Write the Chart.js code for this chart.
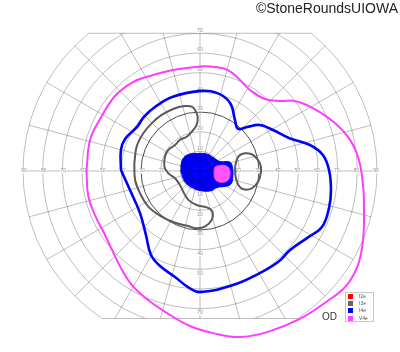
<!DOCTYPE html>
<html>
<head>
<meta charset="utf-8">
<title>Goldmann OD</title>
<script src="https://cdn.jsdelivr.net/npm/chart.js@4.4.1/dist/chart.umd.min.js"></script>
<style>
    body { margin: 0; background: #fff; }
    .wrap { position: relative; width: 400px; height: 352px; overflow: hidden; font-family: 'Liberation Sans', Arial, sans-serif; }
    #field { position: absolute; left: 0; top: 0; }
    .credit { position: absolute; top: 1px; right: 2px; font-size: 14px; line-height: 14px; color: #222; white-space: nowrap; }
    .eye { position: absolute; left: 322px; top: 312px; font-size: 10px; line-height: 10px; color: #333; }
    .legend { position: absolute; left: 345px; top: 292px; width: 27px; height: 28px; border: 1px solid #c8c8c8; background: #fff; }
    .legend div { position: absolute; left: 1.5px; height: 5px; padding-left: 11.5px; font-size: 5px; line-height: 5px; color: #555; }
    .legend span { position: absolute; left: 0; top: 0; width: 5px; height: 5px; }
</style>
</head>
<body>
<div class="wrap">
    <canvas id="field" width="400" height="352"></canvas>
    <div class="credit">©StoneRoundsUIOWA</div>
    <div class="eye">OD</div>
    <div class="legend" id="legend"></div>
</div>
<script>
// Изоптеры в градусах поля: [горизонталь, вертикаль]
const v4eOuter = [
    [-57.7, 0.5], [-55.9, 15.8], [-50.8, 26.4], [-43.2, 38.1], [-34.1, 45.2], [-25.4, 48.3],
    [-13.7, 51.3], [0, 53.1], [7.6, 52.9], [14.2, 51.3], [19.3, 47.3], [25.4, 41.2],
    [33.0, 36.6], [40.7, 35.6], [48.3, 35.6], [57.4, 32.0], [68.6, 24.4], [76.3, 15.8],
    [80.8, 5.6], [82.9, -7.1], [83.4, -19.8], [82.9, -35.1], [80.3, -47.8], [74.2, -58.5],
    [64.1, -66.6], [50.8, -75.2], [34.1, -81.9], [20.3, -84.4], [6.6, -82.4], [-5.1, -78.8],
    [-16.8, -72.2], [-26.4, -65.6], [-34.6, -58.0], [-40.2, -49.3], [-44.7, -40.2],
    [-48.8, -31.5], [-53.4, -22.4], [-56.9, -12.2]
];

const i4eOuter = [
    [-40.2, 0.5], [-40.2, 10.7], [-38.1, 16.3], [-32.0, 22.4], [-28.5, 27.5], [-22.9, 32.5],
    [-14.2, 37.6], [0, 40.7], [8.6, 39.7], [15.3, 34.6], [17.8, 25.9], [19.3, 21.4],
    [23.9, 22.4], [30.5, 23.4], [37.1, 20.8], [45.2, 16.8], [55.9, 13.2], [62.5, 8.1],
    [65.6, 0.5], [66.6, -9.7], [65.6, -18.8], [62.0, -28.5], [54.4, -34.1], [45.8, -40.2],
    [39.7, -46.3], [29.5, -52.4], [16.8, -58.0], [0, -61.5], [-6.1, -59.0], [-12.7, -53.9],
    [-20.3, -48.3], [-24.9, -42.7], [-27.5, -32.5], [-30.5, -21.4], [-35.6, -9.7]
];

const i3eOuter = [
    [-33.4, 3.9], [-32.2, 12.4], [-28.8, 19.2], [-24.6, 24.2], [-19.5, 28.5], [-12.7, 31.9],
    [-7.6, 33.0], [-4.2, 32.7], [-2.5, 31.0], [-1.2, 27.6], [-1.7, 23.4], [-4.2, 20.0],
    [-6.8, 17.4], [-10.2, 15.8], [-12.7, 13.2], [-16.1, 10.7], [-17.8, 7.3], [-18.1, 2.2],
    [-16.1, -1.2], [-12.7, -3.7], [-10.2, -7.1], [-8.5, -10.5], [-5.9, -14.7], [-1.7, -17.3],
    [3.4, -18.5], [6.3, -20.7], [5.9, -24.9], [2.5, -28.3], [-1.7, -29.1], [-5.9, -28.0],
    [-12.7, -26.3], [-19.5, -23.2], [-26.3, -18.1], [-30.5, -11.3], [-33.0, -4.6]
];

const i3eIsland = [
    [17.8, 2.2], [19.5, 7.3], [22.9, 9.0], [27.1, 8.1], [30.5, 3.9], [31.0, -0.3],
    [29.6, -5.4], [26.3, -8.8], [22.0, -9.3], [19.5, -7.1], [18.1, -2.9]
];

const i4eCentral = [
    [-9.7, -0.3], [-9.2, 5.1], [-6.6, 8.1], [-1.5, 8.9], [3.5, 8.6], [7.1, 6.6],
    [10.2, 4.8], [15.0, 4.6], [16.5, 2.0], [16.6, -3.8], [15.5, -6.9], [12.2, -7.9],
    [8.6, -8.4], [6.1, -9.9], [1.5, -10.2], [-3.6, -8.6], [-7.6, -5.6]
];

const v4eCentral = [
    [7.1, -1.0], [7.6, 2.0], [9.7, 2.8], [12.7, 2.8], [14.7, 1.5], [15.3, -1.0],
    [14.7, -4.1], [12.7, -5.6], [9.7, -5.6], [7.6, -4.1]
];

// Сетка периметра
const ringValues = [5, 10, 20, 30, 40, 50, 60, 70, 80, 90];
const meridianValues = [0, 15, 30, 45, 60, 75, 90, 105, 120, 135, 150, 165,
    180, 195, 210, 225, 240, 255, 270, 285, 300, 315, 330, 345];
const horizontalTickLabels = [20, 30, 40, 50, 60, 70, 80, 90];
const verticalTickLabels = [10, 20, 30, 40, 50, 60, 70];
const fieldTop = 70;
const fieldBottom = -75;
const fieldEdge = 90;
const centralRing = 30;

const legendLabels = ['I2e', 'I3e', 'I4e', 'V4e'];
const legendColors = ['#ff0000', '#666666', '#0000ff', '#ff44ff'];

function closeLoop(points) {
    return points.concat([points[0]]).map(p => ({ x: p[0], y: p[1] }));
}

function isopter(points, color, width, fillColor) {
    return {
        data: closeLoop(points),
        showLine: true,
        borderColor: color,
        borderWidth: width,
        backgroundColor: fillColor || color,
        fill: fillColor ? 'shape' : false,
        pointRadius: 0,
        tension: 0.4
    };
}

// Сетка рисуется сразу после центрального пятна, чтобы линии были видны поверх него
const fieldGrid = {
    id: 'fieldGrid',
    afterDatasetDraw(chart, args) {
        if (args.index !== chart.data.datasets.length - 1) return;

        const ctx = chart.ctx;
        const px = v => chart.scales.x.getPixelForValue(v);
        const py = v => chart.scales.y.getPixelForValue(v);
        const cx = px(0);
        const cy = py(0);
        const unit = px(1) - px(0);
        const top = py(fieldTop);
        const bottom = py(fieldBottom);

        ctx.save();
        ctx.beginPath();
        ctx.rect(0, top, chart.width, bottom - top);
        ctx.clip();
        ctx.lineWidth = 1;
        ctx.strokeStyle = 'rgba(0, 0, 0, 0.26)';

        ringValues.forEach(r => {
            if (r === centralRing) return;
            ctx.beginPath();
            ctx.arc(cx, cy, r * unit, 0, Math.PI * 2);
            ctx.stroke();
        });

        meridianValues.forEach(a => {
            const rad = a * Math.PI / 180;
            const start = a % 90 === 0 ? 0 : ringValues[0];
            ctx.beginPath();
            ctx.moveTo(px(start * Math.cos(rad)), py(start * Math.sin(rad)));
            ctx.lineTo(px(fieldEdge * Math.cos(rad)), py(fieldEdge * Math.sin(rad)));
            ctx.stroke();
        });

        ctx.strokeStyle = 'rgba(0, 0, 0, 0.7)';
        ctx.beginPath();
        ctx.arc(cx, cy, centralRing * unit, 0, Math.PI * 2);
        ctx.stroke();
        ctx.restore();

        // Верхняя и нижняя границы бланка
        ctx.save();
        ctx.lineWidth = 1;
        ctx.strokeStyle = 'rgba(0, 0, 0, 0.26)';
        [fieldTop, fieldBottom].forEach(v => {
            const half = Math.sqrt(fieldEdge * fieldEdge - v * v);
            ctx.beginPath();
            ctx.moveTo(px(-half), py(v));
            ctx.lineTo(px(half), py(v));
            ctx.stroke();
        });

        // Подписи градусов
        ctx.font = '5px "Liberation Sans", Arial, sans-serif';
        ctx.textAlign = 'center';
        ctx.textBaseline = 'middle';
        const label = (text, x, y) => {
            const w = ctx.measureText(text).width + 1;
            ctx.fillStyle = '#fff';
            ctx.fillRect(x - w / 2, y - 2.5, w, 5);
            ctx.fillStyle = '#8a8a8a';
            ctx.fillText(text, x, y);
        };
        horizontalTickLabels.forEach(v => {
            label(String(v), px(-v) + 1, cy);
            label(String(v), px(v) - 1, cy);
        });
        verticalTickLabels.forEach(v => {
            label(String(v), cx, py(v) - 3);
            label(String(v), cx, py(-v) + 4);
        });
        ctx.restore();
    }
};

document.addEventListener('DOMContentLoaded', function() {
    // Легенда
    const legend = document.getElementById('legend');
    legend.innerHTML = legendLabels.map((name, i) => `
        <div style="top:${1 + i * 7.2}px"><span style="background:${legendColors[i]}"></span>${name}</div>
    `).join('');

    new Chart(document.getElementById('field'), {
        type: 'scatter',
        data: {
            datasets: [
                isopter(v4eCentral, '#f03cf0', 1, '#ff55ff'),
                isopter(v4eOuter, '#ff3cff', 2),
                isopter(i4eOuter, '#0000ff', 2.6),
                isopter(i3eOuter, '#5a5a5a', 2),
                isopter(i3eIsland, '#5a5a5a', 2),
                isopter(i4eCentral, '#0000ff', 1, '#0000ff')
            ]
        },
        options: {
            responsive: false,
            animation: false,
            events: [],
            layout: { padding: 0 },
            scales: {
                x: { type: 'linear', min: -101.7, max: 101.7, display: false },
                y: { type: 'linear', min: -92.0, max: 86.9, display: false }
            },
            plugins: {
                legend: { display: false },
                tooltip: { enabled: false }
            }
        },
        plugins: [fieldGrid]
    });
});
</script>
</body>
</html>
